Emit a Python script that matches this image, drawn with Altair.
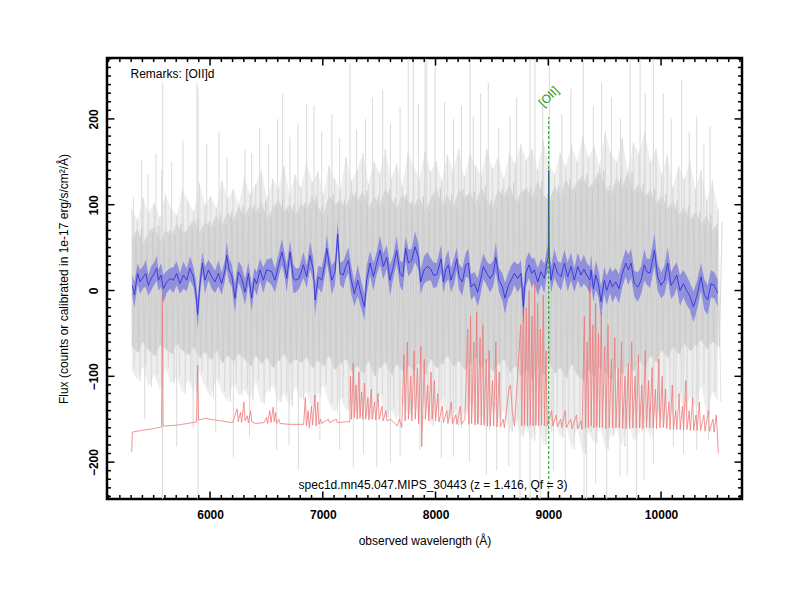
import altair as alt
import pandas as pd

FONT = "Liberation Sans"

# ---------------- data ----------------
x_tick_labels = [6000, 7000, 8000, 9000, 10000]
y_tick_labels = [-200, -100, 0, 100, 200]

# gray raw spectrum envelopes (50 A bins starting 5305)
gray_w = list(range(5305, 10506, 50))
gray_outer_hi = [95, 82, 108, 90, 102, 85, 112, 96, 88, 118,
                 104, 92, 125, 100, 110, 96, 128, 106, 118, 100,
                 132, 112, 124, 140, 108, 130, 118, 145, 112, 135,
                 120, 150, 126, 138, 112, 145, 130, 118, 155, 128,
                 140, 160, 124, 150, 136, 165, 130, 148, 122, 160,
                 145, 130, 162, 138, 150, 128, 158, 140, 165, 132,
                 160, 145, 135, 165, 142, 155, 130, 160, 148, 170,
                 152, 165, 140, 175, 148, 135, 160, 145, 170, 150,
                 180, 155, 168, 145, 185, 160, 150, 178, 140, 172,
                 160, 185, 150, 165, 135, 158, 120, 145, 130, 150,
                 118, 140, 105, 128, 95]
gray_outer_lo = [-92, -105, -88, -112, -98, -115, -90, -108, -100, -120,
                 -105, -118, -96, -112, -125, -102, -118, -130, -108, -122,
                 -115, -128, -106, -132, -118, -110, -130, -120, -135, -112,
                 -128, -118, -138, -122, -110, -132, -142, -125, -140, -130,
                 -145, -128, -150, -135, -122, -148, -138, -152, -130, -145,
                 -135, -150, -128, -158, -140, -125, -150, -138, -160, -142,
                 -130, -155, -145, -162, -135, -150, -140, -165, -150, -170,
                 -160, -175, -150, -180, -165, -145, -172, -155, -185, -160,
                 -190, -165, -178, -155, -185, -170, -160, -182, -150, -175,
                 -165, -150, -172, -140, -155, -130, -148, -120, -140, -125,
                 -135, -110, -145, -118, -130]
gray_inner_hi = [60, 72, 55, 68, 75, 58, 70, 64, 78, 66,
                 72, 84, 68, 80, 74, 88, 76, 92, 82, 98,
                 86, 100, 90, 104, 84, 96, 106, 92, 100, 88,
                 102, 94, 110, 98, 88, 112, 100, 106, 96, 115,
                 104, 116, 96, 110, 100, 118, 108, 95, 112, 104,
                 98, 110, 92, 106, 120, 100, 112, 96, 118, 108,
                 115, 100, 122, 105, 96, 118, 108, 125, 102, 114,
                 120, 108, 128, 112, 104, 122, 110, 130, 115, 126,
                 135, 118, 128, 140, 122, 112, 132, 120, 138, 115,
                 125, 108, 118, 100, 112, 95, 105, 88, 98, 82,
                 92, 78, 88, 70, 80]
gray_inner_lo = [-65, -72, -60, -70, -76, -64, -68, -74, -62, -70,
                 -75, -66, -78, -72, -80, -70, -84, -76, -82, -74,
                 -80, -88, -76, -85, -78, -90, -82, -74, -86, -80,
                 -84, -78, -90, -82, -88, -76, -92, -85, -80, -95,
                 -88, -96, -82, -100, -90, -84, -98, -86, -94, -88,
                 -92, -84, -98, -80, -90, -86, -76, -88, -82, -92,
                 -85, -78, -90, -82, -94, -86, -80, -95, -88, -100,
                 -92, -104, -88, -98, -84, -96, -90, -102, -86, -98,
                 -105, -92, -100, -88, -96, -104, -90, -98, -85, -94,
                 -82, -90, -76, -84, -70, -78, -66, -74, -62, -70,
                 -64, -58, -68, -60, -66]

# isolated gray spikes (wavelength, extreme value)
gray_up_spikes = [(5320, 109), (5394, 152), (5450, 135), (5520, 160), (5571, 140), (5580, 242),
                  (5660, 150), (5760, 175), (5884, 242), (5893, 235), (5970, 171), (6080, 185),
                  (6150, 155), (6310, 164), (6369, 160), (6440, 190), (6520, 170), (6600, 200),
                  (6644, 230), (6709, 179), (6780, 195), (6857, 218), (6922, 216), (6990, 185),
                  (7080, 205), (7150, 178), (7241, 265), (7300, 187), (7380, 200), (7440, 225),
                  (7531, 234), (7600, 195), (7685, 214), (7758, 270), (7803, 270), (7847, 218),
                  (7906, 270), (7922, 270), (7996, 270), (8080, 220), (8160, 200), (8230, 215),
                  (8306, 270), (8335, 203), (8400, 230), (8468, 242), (8560, 190), (8661, 203),
                  (8720, 225), (8838, 270), (8882, 270), (8950, 215), (9009, 270), (9120, 205),
                  (9200, 235), (9311, 270), (9400, 215), (9473, 242), (9560, 225), (9640, 200),
                  (9725, 270), (9814, 270), (9860, 230), (9932, 270), (10020, 230), (10090, 200),
                  (10183, 245), (10250, 185), (10316, 203), (10380, 170), (10434, 191)]
gray_down_spikes = [(5420, -150), (5577, -243), (5704, -182), (5850, -160), (5893, -243),
                    (6050, -165), (6207, -194), (6350, -170), (6591, -186), (6700, -180),
                    (6783, -210), (6975, -175), (7150, -185), (7271, -206), (7360, -190),
                    (7478, -206), (7600, -200), (7685, -194), (7862, -186), (8050, -195),
                    (8158, -194), (8300, -200), (8450, -215), (8542, -210), (8650, -205),
                    (8749, -243), (8838, -243), (8927, -243), (9045, -210), (9150, -220),
                    (9317, -243), (9340, -243), (9420, -225), (9518, -243), (9636, -217),
                    (9700, -215), (9784, -243), (9850, -220), (9932, -202), (10109, -182),
                    (10200, -190), (10316, -186), (10420, -175)]

# smoothed flux (blue) and its error
blue_w = [5311, 5329, 5358, 5379, 5409, 5429, 5453, 5477, 5506, 5527,
          5542, 5565, 5586, 5616, 5645, 5675, 5704, 5734, 5763, 5793,
          5822, 5852, 5873, 5890, 5908, 5932, 5955, 5985, 6015, 6044,
          6074, 6103, 6133, 6148, 6168, 6192, 6221, 6251, 6281, 6310,
          6340, 6369, 6393, 6414, 6443, 6473, 6502, 6547, 6576, 6606,
          6636, 6659, 6680, 6710, 6739, 6760, 6789, 6828, 6857, 6887,
          6916, 6931, 6961, 6990, 7020, 7035, 7055, 7079, 7109, 7132,
          7153, 7182, 7203, 7227, 7250, 7280, 7310, 7339, 7369, 7389,
          7419, 7449, 7478, 7508, 7537, 7567, 7596, 7626, 7655, 7685,
          7709, 7735, 7759, 7788, 7818, 7848, 7868, 7898, 7927, 7957,
          7981, 8010, 8049, 8070, 8090, 8114, 8137, 8167, 8188, 8208,
          8238, 8268, 8291, 8315, 8344, 8374, 8395, 8424, 8454, 8483,
          8513, 8534, 8563, 8593, 8616, 8646, 8670, 8699, 8729, 8758,
          8779, 8800, 8829, 8853, 8876, 8906, 8936, 8965, 8986, 9000,
          9004, 9008, 9024, 9054, 9083, 9113, 9143, 9172, 9202, 9231,
          9261, 9290, 9315, 9341, 9370, 9379, 9400, 9421, 9444, 9468,
          9497, 9518, 9548, 9568, 9598, 9628, 9657, 9687, 9710, 9734,
          9763, 9793, 9823, 9852, 9873, 9902, 9941, 9970, 10000, 10030,
          10059, 10089, 10118, 10139, 10168, 10198, 10228, 10257, 10287, 10316,
          10355, 10384, 10414, 10443, 10473, 10502]
blue_f = [6, -5, 20, 10, 16, 20, 6, 14, 20, 26,
          12, 18, 2, 10, 14, 12, 20, 8, 18, 12,
          26, 16, 0, -28, 4, 32, 12, 24, 16, 10,
          20, 8, 24, 41, 24, 18, -9, 22, 14, -2,
          20, -9, 14, 8, 24, 12, 24, 22, 12, 28,
          45, 32, 14, 45, 14, 12, 14, 30, 16, 41,
          24, -11, 16, 12, 32, 49, 32, 12, 22, 66,
          20, 18, 28, 35, 14, -4, 12, -4, -19, 12,
          32, 16, 32, 47, 28, 39, 12, 28, 47, 20,
          16, 49, 32, 35, 51, 39, 10, 24, 28, 25,
          18, 18, 37, 10, 24, 30, 12, 24, 37, 16,
          10, 30, 32, 4, 8, -2, 10, 28, 20, 14,
          20, 39, 12, 4, -9, 6, 12, 20, 14, 20,
          -19, 20, 30, 20, 24, 10, 22, 14, 32, 38,
          140, 40, 12, 32, 20, 16, 32, 16, 28, 12,
          28, 18, 25, 18, 12, 24, 2, 18, 8, -13,
          12, 0, 12, 4, 10, 2, 20, 32, 24, 32,
          8, 4, 12, 30, 22, 20, 47, 16, 6, 12,
          32, 6, 12, 18, 0, 8, 0, -7, -19, -7,
          16, -5, -11, 8, 6, -3]
blue_err = [13, 15, 12, 14, 13, 16, 12, 14, 13, 15,
            12, 14, 16, 13, 12, 15, 14, 12, 16, 13,
            14, 12, 13, 18, 14, 13, 16, 12, 14, 13,
            15, 13, 12, 16, 14, 13, 17, 12, 14, 15,
            13, 16, 12, 14, 13, 15, 12, 16, 14, 13,
            15, 14, 16, 13, 17, 14, 12, 15, 13, 16,
            14, 18, 13, 15, 14, 16, 13, 17, 14, 15,
            13, 16, 14, 15, 17, 14, 18, 16, 15, 17,
            14, 16, 13, 17, 15, 14, 18, 13, 16, 15,
            17, 14, 16, 13, 18, 15, 14, 16, 17, 13,
            15, 14, 16, 13, 15, 17, 14, 16, 13, 15,
            16, 14, 17, 15, 14, 16, 18, 15, 14, 16,
            15, 17, 14, 16, 18, 15, 17, 14, 16, 15,
            19, 16, 15, 17, 14, 16, 15, 17, 14, 16,
            18, 16, 15, 17, 14, 16, 15, 17, 16, 14,
            16, 15, 17, 14, 16, 18, 15, 17, 16, 18,
            16, 17, 15, 18, 16, 17, 15, 16, 18, 17,
            15, 17, 16, 18, 15, 17, 19, 16, 15, 17,
            18, 16, 17, 15, 18, 16, 17, 16, 18, 17,
            16, 18, 17, 16, 15, 16]

# sky spectrum (red), offset below zero: (wavelength, value)
sky_pts = [(5305, -188), (5310, -165), (5400, -163), (5500, -161), (5570, -159), (5577, -5),
           (5584, -158), (5700, -157), (5800, -155), (5880, -153), (5890, -87), (5898, -151),
           (5950, -149), (6000, -150), (6100, -152), (6200, -154),
           (6240, -138), (6250, -153), (6270, -142), (6280, -154), (6300, -130), (6310, -152),
           (6330, -146), (6340, -154), (6360, -140), (6370, -153),
           (6400, -155), (6480, -154), (6500, -148), (6510, -155), (6530, -140), (6540, -154),
           (6560, -136), (6570, -153), (6580, -142), (6590, -155), (6610, -150), (6620, -155),
           (6700, -156), (6800, -156), (6830, -156),
           (6845, -125), (6855, -158), (6870, -140), (6880, -160), (6900, -135), (6910, -157),
           (6930, -122), (6940, -158), (6955, -130), (6965, -156), (6980, -150), (6990, -155),
           (7050, -150), (7060, -154), (7120, -150), (7130, -154), (7200, -153), (7240, -153),
           (7245, -100), (7255, -150), (7270, -85), (7280, -148), (7295, -110), (7305, -150),
           (7320, -95), (7330, -149), (7345, -118), (7355, -150), (7370, -108), (7380, -150),
           (7400, -125), (7410, -151), (7430, -115), (7440, -150), (7460, -130), (7470, -151),
           (7490, -120), (7500, -150), (7525, -135), (7535, -152), (7560, -140), (7570, -152),
           (7600, -150), (7640, -155), (7660, -158), (7680, -150), (7700, -160),
           (7720, -75), (7730, -152), (7750, -60), (7760, -150), (7780, -100), (7790, -152),
           (7810, -70), (7820, -150), (7840, -90), (7850, -155), (7870, -65), (7877, -182),
           (7885, -152), (7900, -80), (7910, -150), (7930, -110), (7940, -152), (7960, -95),
           (7970, -150), (7990, -105), (8000, -152), (8020, -120), (8030, -153),
           (8060, -135), (8070, -154), (8100, -140), (8110, -155), (8140, -130), (8150, -155),
           (8180, -145), (8190, -156), (8220, -135), (8230, -156), (8260, -150),
           (8285, -45), (8295, -156), (8310, -30), (8320, -155), (8340, -60), (8350, -157),
           (8365, -25), (8375, -156), (8395, -55), (8405, -157), (8420, -40), (8430, -157),
           (8450, -80), (8460, -158), (8475, -70), (8485, -158),
           (8505, -105), (8515, -158), (8535, -60), (8545, -159), (8565, -95), (8575, -159),
           (8600, -150), (8610, -160), (8630, -140), (8650, -115), (8665, -110), (8680, -140),
           (8700, -158),
           (8755, -40), (8765, -158), (8780, 5), (8790, -157), (8805, -20), (8815, -158),
           (8830, 0), (8840, -157), (8855, -30), (8865, -158), (8880, 10), (8890, -157),
           (8905, -15), (8915, -158), (8930, -45), (8940, -157), (8955, -5), (8965, -158),
           (8980, -70), (8990, -158),
           (9030, -140), (9040, -158), (9070, -145), (9080, -159), (9110, -150), (9120, -160),
           (9150, -140), (9160, -160), (9200, -150), (9210, -161), (9250, -145), (9260, -161),
           (9290, -152), (9300, -162),
           (9320, -30), (9330, -160), (9345, -60), (9355, -160), (9370, 10), (9380, -158),
           (9395, -40), (9405, -160), (9420, -15), (9430, -159), (9445, -50), (9455, -160),
           (9470, -25), (9480, -160), (9500, -65), (9510, -161), (9530, -40), (9540, -160),
           (9560, -80), (9570, -160), (9590, -55), (9600, -160), (9620, -90), (9630, -160),
           (9650, -60), (9660, -161), (9680, -100), (9690, -161),
           (9710, -85), (9720, -161), (9740, -60), (9750, -160), (9770, -100), (9780, -160),
           (9800, -75), (9810, -160), (9830, -110), (9840, -161), (9860, -70), (9870, -160),
           (9890, -105), (9900, -160), (9920, -90), (9930, -160), (9950, -115), (9960, -161),
           (9980, -80), (9990, -160), (10010, -100), (10020, -160), (10040, -115), (10050, -161),
           (10070, -130), (10080, -162), (10100, -110), (10110, -162), (10130, -140), (10140, -162),
           (10160, -120), (10170, -162), (10190, -135), (10200, -163), (10220, -105), (10230, -162),
           (10250, -140), (10260, -163), (10280, -125), (10290, -163), (10310, -145), (10320, -163),
           (10340, -130), (10350, -163), (10380, -145), (10390, -164), (10420, -140), (10430, -164),
           (10460, -150), (10470, -165), (10490, -145), (10500, -168), (10508, -190)]

oii_wave = 9004
oii_line_top = 202
oii_label_y = 226
remarks_text = "Remarks: [OII]d"
object_text = "spec1d.mn45.047.MIPS_30443 (z = 1.416, Qf = 3)"

X_DOMAIN = [5086, 10718]
Y_DOMAIN = [-243, 271]

# ---------------- tables ----------------
n = min(len(gray_w), len(gray_outer_hi), len(gray_outer_lo), len(gray_inner_hi), len(gray_inner_lo))
gray_df = pd.DataFrame({"w": gray_w[:n], "ohi": gray_outer_hi[:n], "olo": gray_outer_lo[:n],
                        "ihi": gray_inner_hi[:n], "ilo": gray_inner_lo[:n]})
# zig-zags through the envelopes (hi at bin start, lo at mid-bin) for a streaky texture
zz, zi = [], []
for i in range(n):
    zz.append((gray_w[i], gray_outer_hi[i]))
    zz.append((gray_w[i] + 25, gray_outer_lo[i]))
    zi.append((gray_w[i] + 12, gray_inner_lo[i]))
    zi.append((gray_w[i] + 37, gray_inner_hi[i]))
zig_df = pd.DataFrame(zz, columns=["w", "f"])
zig_in_df = pd.DataFrame(zi, columns=["w", "f"])
spk = [(w, 40, v) for w, v in gray_up_spikes] + [(w, -40, v) for w, v in gray_down_spikes]
spike_df = pd.DataFrame(spk, columns=["w", "a", "b"])
m = min(len(blue_w), len(blue_f), len(blue_err))
blue_df = pd.DataFrame({"w": blue_w[:m], "f": blue_f[:m], "e": blue_err[:m]})
blue_df["lo"] = blue_df["f"] - blue_df["e"]
blue_df["hi"] = blue_df["f"] + blue_df["e"]
sky_df = pd.DataFrame(sky_pts, columns=["w", "f"])
oii_df = pd.DataFrame({"w": [oii_wave], "y1": [Y_DOMAIN[0]], "y2": [oii_line_top],
                       "ly": [oii_label_y], "t": ["[OII]"]})
txt_df = pd.DataFrame({"t": [0]})

major_x = x_tick_labels
minor_x = [v for v in range(5100, 10701, 100) if v % 1000 != 0]
major_y = y_tick_labels
minor_y = [v for v in range(-240, 271, 10) if v % 100 != 0]

W, H = 635, 441
xs = alt.Scale(domain=X_DOMAIN, nice=False, zero=False)
ys = alt.Scale(domain=Y_DOMAIN, nice=False, zero=False)

xaxis = alt.Axis(values=x_tick_labels, format="d", ticks=False, tickSize=0, domain=False, grid=False,
                 labelFont=FONT, labelFontSize=12, labelFontWeight="bold", labelColor="black",
                 labelPadding=15, labelBaseline="middle", labelFlush=False, labelOverlap=False,
                 title="observed wavelength (Å)", titleFont=FONT, titleFontSize=12,
                 titleFontWeight="normal", titleColor="black", titleY=41, titleBaseline="middle")
yaxis = alt.Axis(values=y_tick_labels, format="d", ticks=False, tickSize=0, domain=False, grid=False,
                 labelFont=FONT, labelFontSize=12, labelFontWeight="bold", labelColor="black",
                 labelAngle=270, labelAlign="center", labelBaseline="middle", labelPadding=14,
                 labelFlush=False, labelOverlap=False,
                 title="Flux (counts or calibrated in 1e-17 erg/s/cm²/Å)", titleFont=FONT,
                 titleFontSize=12, titleFontWeight="normal", titleColor="black",
                 titleAngle=270, titleX=-44, titleBaseline="middle")


def X(field):
    return alt.X(field, type="quantitative", scale=xs, axis=xaxis)


def Y(field):
    return alt.Y(field, type="quantitative", scale=ys, axis=yaxis)


outer = alt.Chart(gray_df).mark_area(color="#eeeeee", clip=True).encode(
    x=X("w"), y=Y("ohi"), y2="olo")
zig = alt.Chart(zig_df).mark_line(color="#dadada", strokeWidth=0.8, clip=True).encode(
    x=X("w"), y=Y("f"), order="w:Q")
spikes = alt.Chart(spike_df).mark_rule(color="#dadada", strokeWidth=1, clip=True).encode(
    x=X("w"), y=Y("a"), y2="b")
inner = alt.Chart(gray_df).mark_area(color="#d6d6d6", clip=True).encode(
    x=X("w"), y=Y("ihi"), y2="ilo")
zig_in = alt.Chart(zig_in_df).mark_line(color="#c9c9c9", strokeWidth=0.7, clip=True).encode(
    x=X("w"), y=Y("f"), order="w:Q")
sky = alt.Chart(sky_df).mark_line(color="#f07878", strokeWidth=0.8, clip=True).encode(
    x=X("w"), y=Y("f"))
band = alt.Chart(blue_df).mark_area(color="#5a5ae6", opacity=0.55, clip=True).encode(
    x=X("w"), y=Y("lo"), y2="hi")
line = alt.Chart(blue_df).mark_line(color="#3434d6", strokeWidth=0.9, clip=True).encode(
    x=X("w"), y=Y("f"))
oii_rule = alt.Chart(oii_df).mark_rule(color="#1a9a1a", strokeWidth=1, strokeDash=[3, 2]).encode(
    x=X("w"), y=Y("y1"), y2="y2")
oii_text = alt.Chart(oii_df).mark_text(color="#1a9a1a", font=FONT, fontSize=12, angle=315,
                                       align="center", baseline="middle").encode(
    x=X("w"), y=Y("ly"), text="t:N")
remarks = alt.Chart(txt_df).mark_text(text=remarks_text, font=FONT, fontSize=12, color="black",
                                      align="left", baseline="middle").encode(
    x=alt.value(23.5), y=alt.value(15.5))
objtxt = alt.Chart(txt_df).mark_text(text=object_text, font=FONT, fontSize=12, color="black",
                                     align="center", baseline="middle").encode(
    x=alt.value(326), y=alt.value(427))


def xticks(vals, length):
    d = pd.DataFrame({"t": vals})
    b = alt.Chart(d).mark_rule(color="black", strokeWidth=1.5).encode(
        x=X("t"), y=alt.value(H), y2=alt.value(H - length))
    t = alt.Chart(d).mark_rule(color="black", strokeWidth=1.5).encode(
        x=X("t"), y=alt.value(0), y2=alt.value(length))
    return [b, t]


def yticks(vals, length):
    d = pd.DataFrame({"t": vals})
    l = alt.Chart(d).mark_rule(color="black", strokeWidth=1.5).encode(
        y=Y("t"), x=alt.value(0), x2=alt.value(length))
    r = alt.Chart(d).mark_rule(color="black", strokeWidth=1.5).encode(
        y=Y("t"), x=alt.value(W), x2=alt.value(W - length))
    return [l, r]


layers = [outer, zig, spikes, inner, zig_in, sky, band, line, oii_rule, oii_text, remarks, objtxt]
layers += xticks(major_x, 7.5) + xticks(minor_x, 4) + yticks(major_y, 7.5) + yticks(minor_y, 4)

chart = alt.layer(*layers).properties(
    width=W, height=H,
    padding={"left": 99, "top": 50, "right": 50, "bottom": 93},
    autosize=alt.AutoSizeParams(type="none"),
    background="white",
).configure_view(stroke="black", strokeWidth=2.5)

chart.save("out.html", embed_options={"renderer": "svg", "actions": False})
